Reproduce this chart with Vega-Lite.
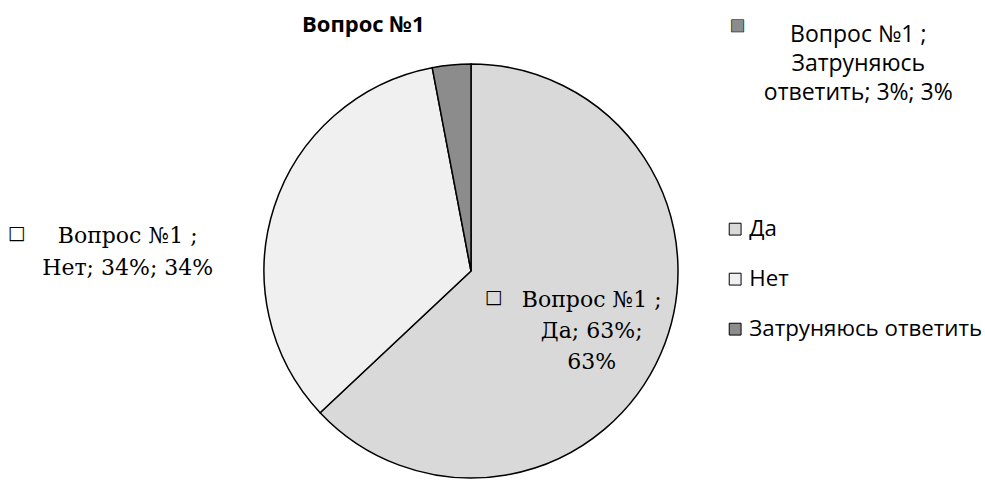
{
  "$schema": "https://vega.github.io/schema/vega-lite/v6.json",
  "width": 942,
  "height": 418,
  "padding": {"left": 0, "top": 62, "right": 43, "bottom": 0},
  "autosize": {"type": "none"},
  "background": "white",
  "title": {
    "text": "Вопрос №1",
    "anchor": "start",
    "frame": "group",
    "dx": 302,
    "offset": 0,
    "dy": 37,
    "baseline": "alphabetic",
    "font": "Open Sans",
    "fontSize": 22,
    "fontWeight": "bold",
    "color": "black"
  },
  "config": {"view": {"stroke": null}},
  "data": {
    "values": [
      {"category": "Да", "value": 63, "idx": 1},
      {"category": "Нет", "value": 34, "idx": 2},
      {"category": "Затруняюсь ответить", "value": 3, "idx": 3}
    ]
  },
  "encoding": {
    "theta": {"field": "value", "type": "quantitative", "stack": true},
    "order": {"field": "idx", "type": "quantitative"}
  },
  "layer": [
    {
      "mark": {"type": "arc", "outerRadius": 207, "stroke": "black", "strokeWidth": 1.5},
      "encoding": {
        "color": {
          "field": "category",
          "type": "nominal",
          "sort": ["Да", "Нет", "Затруняюсь ответить"],
          "scale": {"domain": ["Да", "Нет", "Затруняюсь ответить"], "range": ["#d9d9d9", "#f0f0f0", "#8c8c8c"]},
          "legend": {
            "title": null,
            "orient": "none",
            "legendX": 724,
            "legendY": 156,
            "padding": 0,
            "symbolType": "square",
            "symbolSize": 140,
            "symbolStrokeColor": "black",
            "symbolStrokeWidth": 1,
            "labelFont": "Open Sans",
            "labelFontSize": 22.3,
            "labelColor": "black",
            "labelOffset": 3,
            "labelLimit": 0,
            "rowPadding": 27
          }
        }
      }
    },
    {
      "mark": {"type": "text", "radius": 125, "font": "DejaVu Serif", "fontSize": 22, "lineHeight": 31, "align": "center", "baseline": "middle", "dx": 6, "dy": -21, "color": "black"},
      "encoding": {
        "detail": {"field": "category"},
        "text": {"condition": {"test": "datum.category === 'Да'", "value": ["Вопрос №1 ;", "Да; 63%;", "63%"]}, "value": ""}
      }
    },
    {
      "mark": {"type": "text", "radius": 125, "font": "DejaVu Sans", "fontSize": 19, "align": "center", "baseline": "middle", "dx": -92, "dy": -24, "color": "black"},
      "encoding": {
        "detail": {"field": "category"},
        "text": {"condition": {"test": "datum.category === 'Да'", "value": "□"}, "value": ""}
      }
    },
    {
      "mark": {"type": "text", "radius": 300, "font": "DejaVu Serif", "fontSize": 22, "lineHeight": 32, "align": "center", "baseline": "middle", "dx": -58, "dy": 58, "color": "black"},
      "encoding": {
        "detail": {"field": "category"},
        "text": {"condition": {"test": "datum.category === 'Нет'", "value": ["Вопрос №1 ;", "Нет; 34%; 34%"]}, "value": ""}
      }
    },
    {
      "mark": {"type": "text", "radius": 300, "font": "DejaVu Sans", "fontSize": 19, "align": "center", "baseline": "middle", "dx": -169, "dy": 55, "color": "black"},
      "encoding": {
        "detail": {"field": "category"},
        "text": {"condition": {"test": "datum.category === 'Нет'", "value": "□"}, "value": ""}
      }
    },
    {
      "mark": {"type": "text", "radius": 220, "font": "Open Sans", "fontSize": 23, "lineHeight": 29, "align": "center", "baseline": "middle", "dx": 408, "dy": -17, "color": "black"},
      "encoding": {
        "detail": {"field": "category"},
        "text": {"condition": {"test": "datum.category === 'Затруняюсь ответить'", "value": ["Вопрос №1 ;", "Затруняюсь", "ответить; 3%; 3%"]}, "value": ""}
      }
    },
    {
      "mark": {"type": "text", "radius": 220, "font": "DejaVu Sans", "fontSize": 16, "align": "center", "baseline": "middle", "dx": 287, "dy": -27, "fill": "#8c8c8c", "stroke": "black", "strokeWidth": 0.6},
      "encoding": {
        "detail": {"field": "category"},
        "text": {"condition": {"test": "datum.category === 'Затруняюсь ответить'", "value": "■"}, "value": ""}
      }
    }
  ]
}
